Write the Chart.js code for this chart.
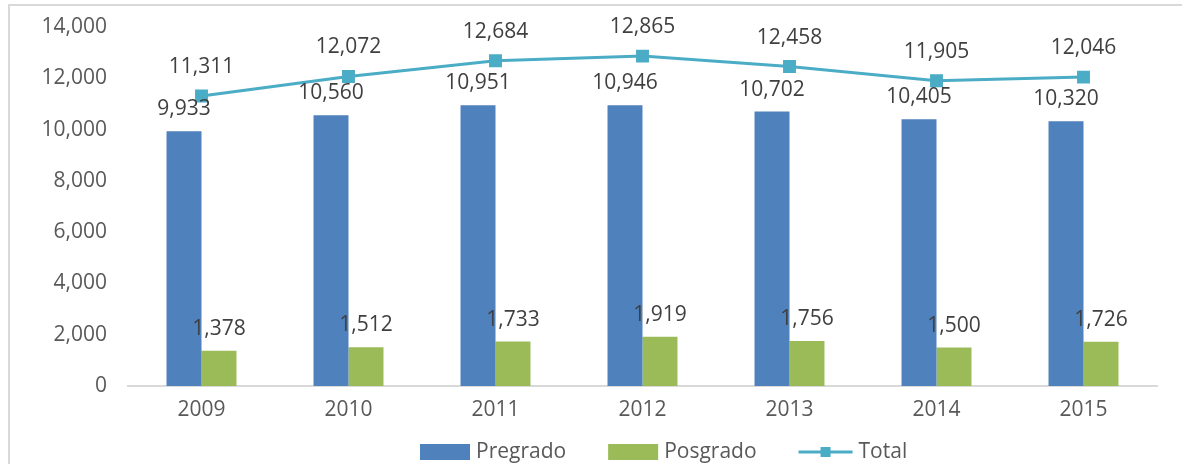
<!DOCTYPE html>
<html>
<head>
<meta charset="utf-8">
<script src="https://cdn.jsdelivr.net/npm/chart.js@4/dist/chart.umd.min.js"></script>
<style>
html, body { margin: 0; padding: 0; background: #fff; }
#wrap { position: relative; width: 1182px; height: 464px; overflow: hidden; }
#frame { position: absolute; left: 8px; top: 4px; width: 1200px; height: 500px; border-left: 2px solid #d9d9d9; border-top: 2px solid #d9d9d9; }
#chart { position: absolute; left: 0; top: 0; }
</style>
</head>
<body>
<div id="wrap">
  <div id="frame"></div>
  <canvas id="chart" width="1182" height="464"></canvas>
</div>
<script>
var years = ['2009', '2010', '2011', '2012', '2013', '2014', '2015'];
var pregrado = [9933, 10560, 10951, 10946, 10702, 10405, 10320];
var posgrado = [1378, 1512, 1733, 1919, 1756, 1500, 1726];
var total = [11311, 12072, 12684, 12865, 12458, 11905, 12046];

var FONT = '"Open Sans", sans-serif';

// numbers above bars and points
var valueLabels = {
    id: 'valueLabels',
    afterDatasetsDraw: function(chart) {
        var ctx = chart.ctx;
        ctx.save();
        ctx.font = '21px ' + FONT;
        ctx.fillStyle = '#404040';
        ctx.textAlign = 'center';
        ctx.textBaseline = 'middle';
        chart.data.datasets.forEach(function(ds, i) {
            var meta = chart.getDatasetMeta(i);
            var offset = ds.type === 'line' ? 29 : 22;
            meta.data.forEach(function(el, j) {
                ctx.fillText(ds.data[j].toLocaleString('en-US'), el.x, el.y - offset);
            });
        });
        ctx.restore();
    }
};

// legend under the axis, line item drawn with its marker
var bottomLegend = {
    id: 'bottomLegend',
    afterDraw: function(chart) {
        var ctx = chart.ctx;
        var x = 420, y = 452;
        ctx.save();
        ctx.font = '21px ' + FONT;
        ctx.textBaseline = 'middle';
        ctx.textAlign = 'left';
        chart.data.datasets.forEach(function(ds) {
            if (ds.type === 'line') {
                ctx.strokeStyle = ds.borderColor;
                ctx.lineWidth = 3;
                ctx.beginPath();
                ctx.moveTo(x, y);
                ctx.lineTo(x + 54, y);
                ctx.stroke();
                ctx.fillStyle = ds.borderColor;
                ctx.fillRect(x + 22, y - 5, 10, 10);
                x += 54 + 6;
            } else {
                ctx.fillStyle = ds.backgroundColor;
                ctx.fillRect(x, y - 8, 50, 16);
                x += 50 + 6;
            }
            ctx.fillStyle = '#595959';
            ctx.fillText(ds.label, x, y);
            x += ctx.measureText(ds.label).width + 42;
        });
        ctx.restore();
    }
};

var ctx = document.getElementById('chart').getContext('2d');
var chart = new Chart(ctx, {
    type: 'bar',
    data: {
        labels: years,
        datasets: [{
            type: 'bar',
            label: 'Pregrado',
            data: pregrado,
            backgroundColor: '#4f81bd',
            categoryPercentage: 0.476,
            barPercentage: 1.0,
            order: 2
        }, {
            type: 'bar',
            label: 'Posgrado',
            data: posgrado,
            backgroundColor: '#9bbb59',
            categoryPercentage: 0.476,
            barPercentage: 1.0,
            order: 2
        }, {
            type: 'line',
            label: 'Total',
            data: total,
            borderColor: '#4bacc6',
            backgroundColor: '#4bacc6',
            borderWidth: 3,
            pointStyle: 'rect',
            pointRadius: 7,
            pointHoverRadius: 7,
            tension: 0,
            fill: false,
            order: 1
        }]
    },
    options: {
        responsive: false,
        animation: false,
        locale: 'en-US',
        layout: {
            padding: { top: 27, right: 25, bottom: 48, left: 0 }
        },
        scales: {
            x: {
                grid: { display: false },
                border: { display: true, color: '#d9d9d9', width: 2 },
                ticks: {
                    color: '#595959',
                    padding: 3,
                    font: { family: FONT, size: 21 }
                },
                afterFit: function(scale) {
                    scale.height = 30;
                }
            },
            y: {
                min: 0,
                max: 14000,
                grid: { display: false },
                border: { display: false },
                ticks: {
                    stepSize: 2000,
                    color: '#595959',
                    padding: 13,
                    font: { family: FONT, size: 21 }
                },
                afterFit: function(scale) {
                    scale.width = 128;
                    scale.paddingTop = 0;
                    scale.paddingBottom = 0;
                }
            }
        },
        plugins: {
            legend: { display: false },
            tooltip: { enabled: false }
        }
    },
    plugins: [valueLabels, bottomLegend]
});
</script>
</body>
</html>
